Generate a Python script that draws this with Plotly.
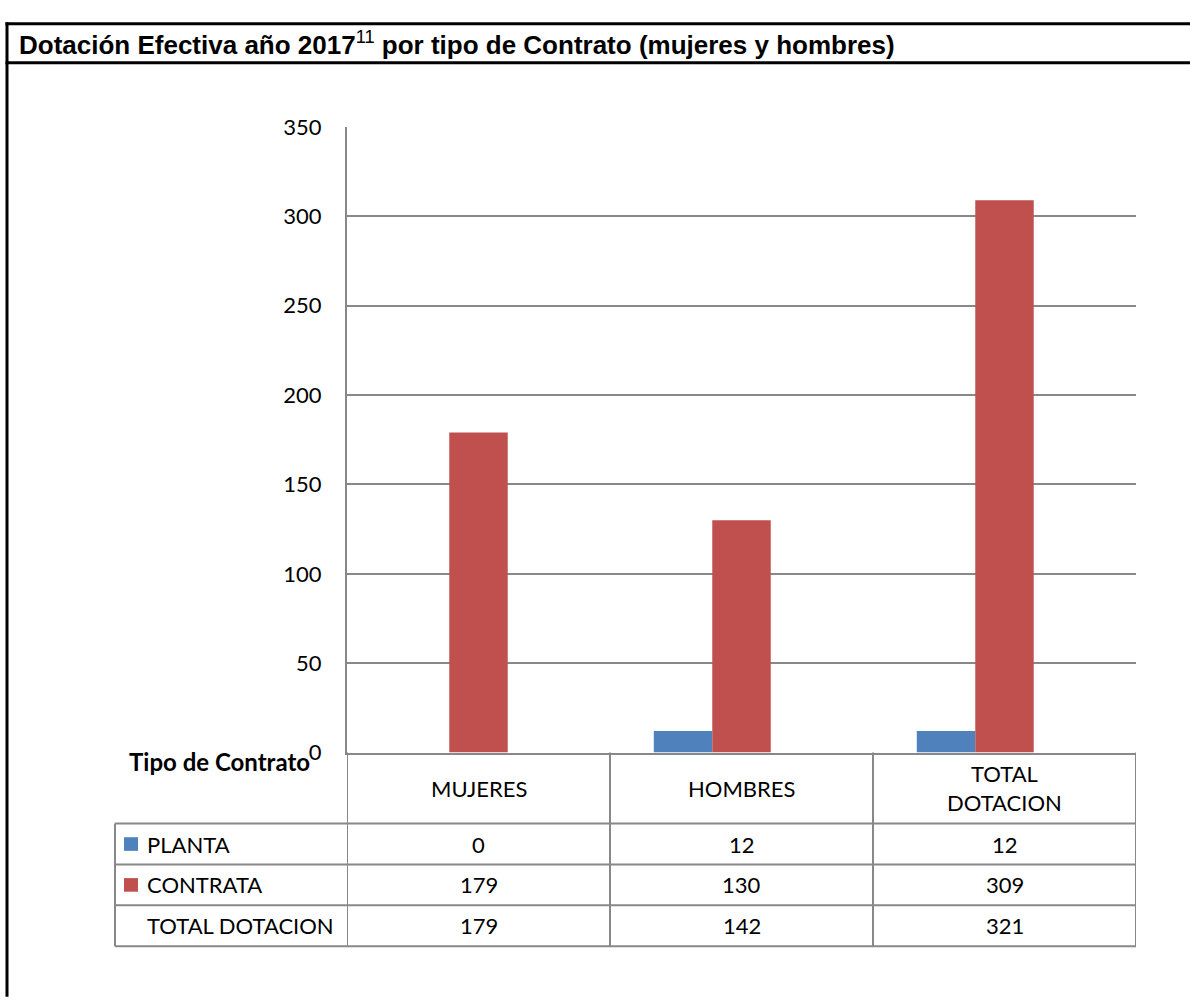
import plotly.graph_objects as go

# ---- data ----
categories = ["MUJERES", "HOMBRES", "TOTAL DOTACION"]
header_labels = ["MUJERES", "HOMBRES", "TOTAL<br>DOTACION"]
series_names = ["PLANTA", "CONTRATA", "TOTAL DOTACION"]
planta = [0, 12, 12]
contrata = [179, 130, 309]
total_dotacion = [179, 142, 321]
y_ticks = [0, 50, 100, 150, 200, 250, 300, 350]

title_main = "Dotación Efectiva año 2017"
title_sup = "11"
title_rest = " por tipo de Contrato (mujeres y hombres)"
table_corner = "Tipo de Contrato"

# ---- layout helpers (pixel -> paper) ----
W, H = 1190, 1003
def px(x):
    return x / W
def py(y):
    return 1 - y / H

BLUE = "#4F81BD"
RED = "#C0504D"
GRID = "#888888"
FONT = "Lato, 'Open Sans', sans-serif"
TXT = 22

fig = go.Figure()
fig.add_trace(go.Bar(name=series_names[0], x=categories, y=planta,
                     marker=dict(color=BLUE, line=dict(width=0))))
fig.add_trace(go.Bar(name=series_names[1], x=categories, y=contrata,
                     marker=dict(color=RED, line=dict(width=0))))
fig.add_trace(go.Bar(name=series_names[2], x=categories, y=total_dotacion,
                     marker=dict(color="rgba(0,0,0,0)", line=dict(width=0))))

plot_l, plot_r, plot_t, plot_b = 347, 1136, 116, 759
row_lines = [832, 874, 916, 958]
row_label_left = 115

shapes = []
# outer frame
for yy in (10, 50):
    shapes.append(dict(type="line", xref="paper", yref="paper", x0=px(5.5), x1=px(1195), y0=py(yy), y1=py(yy),
                       line=dict(color="black", width=3)))
shapes.append(dict(type="line", xref="paper", yref="paper", x0=px(7), x1=px(7), y0=py(8.5), y1=py(1010),
                   line=dict(color="black", width=3)))

# table verticals at category boundaries
n = len(categories)
for i in range(n + 1):
    shapes.append(dict(type="line", xref="x", yref="paper", x0=i - 0.5, x1=i - 0.5,
                       y0=py(plot_b), y1=py(row_lines[-1]), line=dict(color=GRID, width=2)))
# left vertical of row-label column
shapes.append(dict(type="line", xref="paper", yref="paper", x0=px(row_label_left), x1=px(row_label_left),
                   y0=py(row_lines[0]), y1=py(row_lines[-1]), line=dict(color=GRID, width=2)))
# horizontal row lines
for yl in row_lines:
    shapes.append(dict(type="line", xref="paper", yref="paper", x0=px(row_label_left), x1=px(plot_r),
                       y0=py(yl), y1=py(yl), line=dict(color=GRID, width=2)))

annotations = []
# title
annotations.append(dict(xref="paper", yref="paper", x=px(17), y=py(30), xanchor="left", yanchor="middle",
                        showarrow=False,
                        text=f"<b>{title_main}</b><sup>{title_sup}</sup><b>{title_rest}</b>",
                        font=dict(family="'Liberation Sans Narrow', 'Arial Narrow', 'Liberation Sans', sans-serif",
                                  size=26, color="black")))
# corner label
annotations.append(dict(xref="paper", yref="paper", x=px(127), y=py(768), xanchor="left", yanchor="middle",
                        showarrow=False, text=f"<b>{table_corner}</b>",
                        font=dict(family=FONT, size=24, color="black")))
# header labels
for i, lab in enumerate(header_labels):
    annotations.append(dict(xref="x", yref="paper", x=categories[i], y=py((plot_b + row_lines[0]) / 2),
                            xanchor="center", yanchor="middle", showarrow=False, text=lab,
                            font=dict(family=FONT, size=TXT, color="black")))
# rows
rows = [planta, contrata, total_dotacion]
row_colors = [BLUE, RED, None]
for r, (name, vals, col) in enumerate(zip(series_names, rows, row_colors)):
    yc = (row_lines[r] + row_lines[r + 1]) / 2
    annotations.append(dict(xref="paper", yref="paper", x=px(145), y=py(yc), xanchor="left", yanchor="middle",
                            showarrow=False, text=name, font=dict(family=FONT, size=TXT, color="black")))
    if col is not None:
        shapes.append(dict(type="rect", xref="paper", yref="paper", x0=px(124), x1=px(138),
                           y0=py(yc - 7), y1=py(yc + 7), fillcolor=col, line=dict(width=0)))
    for i, v in enumerate(vals):
        annotations.append(dict(xref="x", yref="paper", x=categories[i], y=py(yc), xanchor="center",
                                yanchor="middle", showarrow=False, text=str(v),
                                font=dict(family=FONT, size=TXT, color="black")))

fig.update_layout(
    width=W, height=H,
    margin=dict(l=0, r=0, t=0, b=0),
    paper_bgcolor="white", plot_bgcolor="white",
    showlegend=False,
    barmode="group", bargap=0.333, bargroupgap=0,
    shapes=shapes, annotations=annotations,
    xaxis=dict(domain=[px(plot_l), px(plot_r)], range=[-0.5, 2.5], showticklabels=False,
               showgrid=False, showline=True, linecolor=GRID, linewidth=2, ticks="",
               zeroline=False, fixedrange=True),
    yaxis=dict(domain=[py(plot_b), py(plot_t)], range=[0, 350], tickvals=y_ticks,
               showgrid=True, gridcolor=GRID, gridwidth=1.5, showline=True, linecolor=GRID, linewidth=2,
               zeroline=False, ticks="", ticklabelstandoff=19,
               tickfont=dict(family=FONT, size=22, color="black")),
)

fig.write_html("out.html",
               config={"displayModeBar": False},
               post_script="document.body.style.margin='0';document.body.style.overflow='hidden';")
